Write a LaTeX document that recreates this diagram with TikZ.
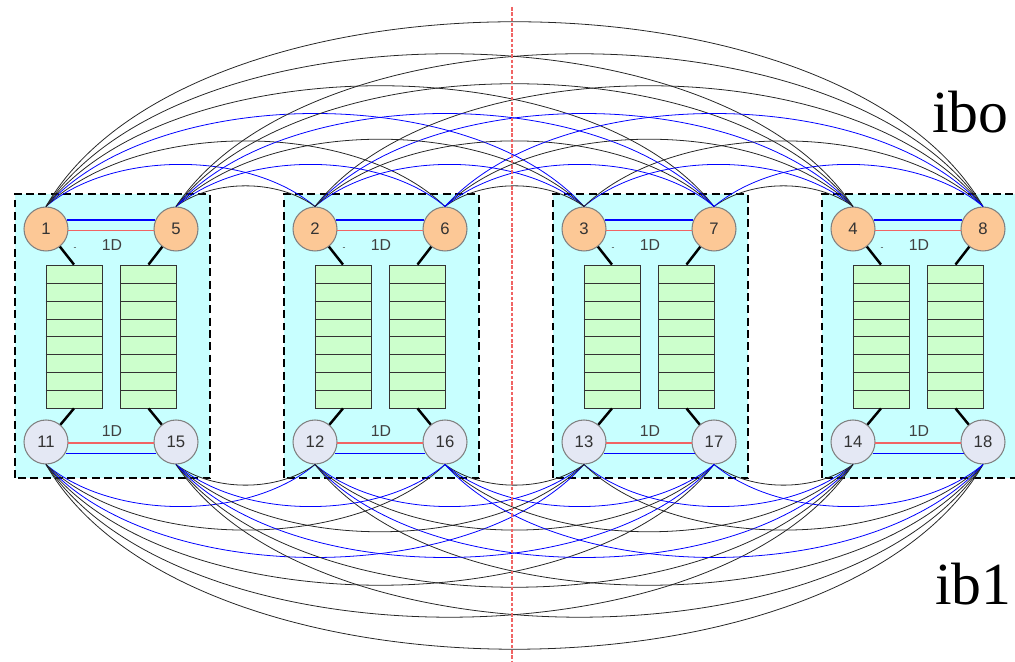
\documentclass[tikz,border=0pt]{standalone}
\usepackage{fontspec}
\setmainfont{Liberation Serif}
\newfontfamily\sansfont{Liberation Sans}
\definecolor{blockfill}{RGB}{200,255,255}
\definecolor{buffill}{RGB}{204,255,204}
\definecolor{upfill}{RGB}{252,200,150}
\definecolor{downfill}{RGB}{228,232,244}
\definecolor{redlink}{RGB}{240,100,100}
\tikzset{
  router/.style={circle, draw=gray, line width=0.6pt, minimum size=0.88cm, inner sep=0pt,
    font=\sansfont\fontsize{9.5}{9.5}\selectfont, text=black!80},
  upnode/.style={router, fill=upfill},
  downnode/.style={router, fill=downfill},
  buffer/.style={draw=black!80, fill=buffill, line width=0.5pt, minimum width=1.12cm,
    minimum height=2.86cm, inner sep=0pt},
  wire/.style={line width=1.4pt, black},
  arcline/.style={line width=0.45pt},
  tag/.style={font=\sansfont\fontsize{9}{9}\selectfont, text=black!75},
}
\begin{document}
\begin{tikzpicture}[x=0.02cm, y=0.02cm]
\useasboundingbox (0,0) rectangle (1015,662);
%boards
\foreach \blk in {1,...,4}{
\pgfmathsetmacro\bx{15+269*(\blk-1)}
\pgfmathtruncatemacro\rt{\blk+4}
\pgfmathtruncatemacro\lbot{\blk+10}
\pgfmathtruncatemacro\rbot{\blk+14}
\draw[dash pattern=on 4.5pt off 2.5pt, line width=1pt, fill=blockfill] (\bx,184) rectangle ++(195,284);
\node[upnode] (r\blk) at (\bx+31,433) {\blk};
\node[upnode] (r\rt) at (\bx+161,433) {\rt};
\node[downnode] (r\lbot) at (\bx+31,220) {\lbot};
\node[downnode] (r\rbot) at (\bx+161,220) {\rbot};
\node[buffer] (qL\blk) at (\bx+59,325.5) {};
\node[buffer] (qR\blk) at (\bx+133.5,325.5) {};
\foreach \q in {qL\blk,qR\blk} \foreach \k in {1,...,7}
  \draw[black!80, line width=0.5pt] ([yshift=\k*0.3575cm]\q.south west) -- ([yshift=\k*0.3575cm]\q.south east);
%links inside the board
\draw[blue, line width=0.8pt] (r\blk.24) -- (r\rt.156);
\draw[redlink, line width=0.8pt] (r\blk.-4) -- (r\rt.184);
\draw[redlink, line width=0.8pt] (r\lbot.-3) -- (r\rbot.183);
\draw[blue, line width=0.8pt] (r\lbot.-30) -- (r\rbot.210);
\draw[wire] (r\blk) -- (qL\blk.north);
\draw[wire] (r\rt) -- (qR\blk.north);
\draw[wire] (qL\blk.south) -- (r\lbot);
\draw[wire] (qR\blk.south) -- (r\rbot);
\node[tag] (dU\blk) at (\bx+97,417) {1D};
\node[tag] (dD\blk) at (\bx+97,231) {1D};
\node[tag, font=\sansfont\tiny] (m\blk) at (\bx+60,413) {-};
}
%arcs between boards (top and bottom planes)
\foreach \i in {1,...,7}{
\pgfmathtruncatemacro\nx{\i+1}
\foreach \j in {\nx,...,8}{
\pgfmathtruncatemacro\same{abs(\j-\i)==4}
\ifnum\same=0
\pgfmathsetmacro\xi{\i<5 ? 46+269*(\i-1) : 176+269*(\i-5)}
\pgfmathsetmacro\xj{\j<5 ? 46+269*(\j-1) : 176+269*(\j-5)}
\pgfmathsetmacro\dir{\xj>\xi ? 1 : -1}
\pgfmathsetmacro\dist{abs(\xj-\xi)}
\pgfmathsetmacro\ang{min(32+0.03*\dist,60)}
\pgfmathsetmacro\len{(0.14*\dist+0.00006*\dist*\dist)/(0.75*sin(\ang))*0.569}
\pgfmathsetmacro\outa{90-\dir*(90-\ang)}
\pgfmathsetmacro\ina{90+\dir*(90-\ang)}
\pgfmathtruncatemacro\isblue{((\i<5 && \j<5) || (\i>4 && \j>4)) && (\j-\i<3)}
\ifnum\isblue=1 \def\col{blue}\else\def\col{black!85}\fi
\pgfmathtruncatemacro\bi{\i+10}
\pgfmathtruncatemacro\bj{\j+10}
\draw[arcline, draw=\col] (r\i.north) to[out=\outa, in=\ina, distance=\len pt] (r\j.north);
\draw[arcline, draw=\col] (r\bi.south) to[out=-\outa, in=-\ina, distance=\len pt] (r\bj.south);
\fi
}}
%middle
\draw[redlink, dash pattern=on 2pt off 1pt, line width=0.6pt] (512,655) -- (512,0);
%plane labels
\node[anchor=base west, font=\fontsize{34}{34}\selectfont] (ibo) at (926,529) {ibo};
\node[anchor=base west, font=\fontsize{34}{34}\selectfont] (ibone) at (929,57) {ib1};
\end{tikzpicture}
\end{document}
